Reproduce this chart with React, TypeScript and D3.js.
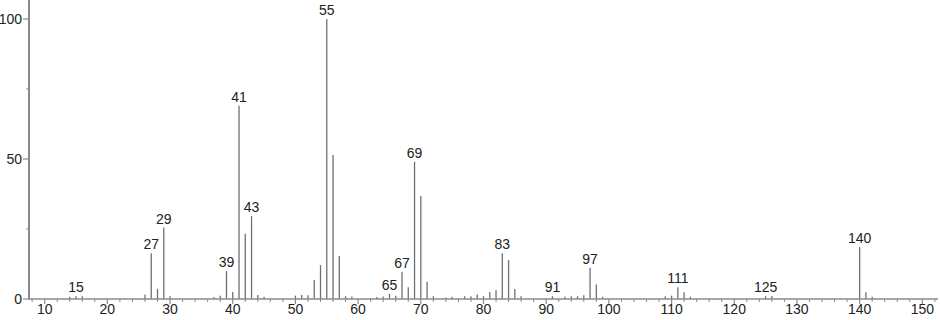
import React from "react";
import * as d3 from "d3";

const mz = [14, 15, 16, 26, 27, 28, 29, 30, 37, 38, 39, 40, 41, 42, 43, 44, 45, 50, 51, 52, 53, 54, 55, 56, 57, 58, 59, 62, 63, 64, 65, 66, 67, 68, 69, 70, 71, 72, 74, 75, 77, 78, 79, 80, 81, 82, 83, 84, 85, 86, 91, 93, 94, 95, 96, 97, 98, 99, 109, 110, 111, 112, 113, 125, 126, 140, 141, 142];
const intensity = [0.8, 1.0, 1.0, 1.5, 16.3, 3.6, 25.5, 1.0, 0.7, 1.2, 10.0, 2.5, 69.0, 23.3, 29.6, 1.4, 0.8, 1.2, 1.4, 1.3, 6.8, 12.1, 100, 51.4, 15.4, 1.0, 0.9, 0.3, 0.7, 0.9, 1.8, 1.2, 9.6, 4.2, 49.0, 36.8, 6.2, 1.0, 0.5, 0.8, 1.0, 1.0, 1.6, 1.0, 2.5, 3.1, 16.3, 13.9, 3.6, 1.0, 1.0, 0.8, 1.0, 1.0, 1.3, 11.2, 5.2, 0.8, 1.0, 1.2, 4.2, 2.4, 0.8, 1.0, 1.1, 18.5, 2.4, 0.8];
const labeled = [15, 27, 29, 39, 41, 43, 55, 65, 67, 69, 83, 91, 97, 111, 125, 140];
const xTicks = [10, 20, 30, 40, 50, 60, 70, 80, 90, 100, 110, 120, 130, 140, 150];
const yTicks = [0, 50, 100];
const yMinor = [25, 75];

export default function App() {
  const W = 940, H = 320;
  const x = d3.scaleLinear().domain([7.5, 152.5]).range([29, 938]);
  const y = d3.scaleLinear().domain([0, 100]).range([299, 19]);
  const minor = d3.range(8, 153, 2).filter((v) => v % 10 !== 0);
  const font = "'Liberation Sans', Arial, sans-serif";
  const axisColor = "#8a8a8a";
  const barColor = "#707070";
  const textColor = "#222";

  return (
    <svg width={W} height={H} style={{ position: "absolute", left: 0, top: 0, background: "#fff" }}>
      {/* bars */}
      {mz.map((m, i) => (
        <line key={m} x1={x(m)} x2={x(m)} y1={y(0)} y2={y(intensity[i])} stroke={barColor} strokeWidth={1.3} />
      ))}
      {/* peak labels */}
      {mz.map((m, i) =>
        labeled.includes(m) ? (
          <text key={"l" + m} x={x(m)} y={y(intensity[i]) - 4} textAnchor="middle" fontFamily={font} fontSize={14} fill={textColor}>
            {m}
          </text>
        ) : null
      )}
      {/* x axis */}
      <line x1={29} x2={938} y1={y(0)} y2={y(0)} stroke={axisColor} strokeWidth={1.3} />
      {minor.map((v) => (
        <line key={"mn" + v} x1={x(v)} x2={x(v)} y1={y(0)} y2={y(0) + 3} stroke={axisColor} strokeWidth={1} />
      ))}
      {xTicks.map((v) => (
        <g key={"xt" + v}>
          <line x1={x(v)} x2={x(v)} y1={y(0)} y2={y(0) + 5} stroke={axisColor} strokeWidth={1.2} />
          <text x={x(v)} y={314} textAnchor="middle" fontFamily={font} fontSize={14} fill={textColor}>
            {v}
          </text>
        </g>
      ))}
      {/* y axis */}
      <line x1={29} x2={29} y1={0} y2={y(0) + 0.6} stroke={axisColor} strokeWidth={2} />
      {yTicks.map((v) => (
        <g key={"yt" + v}>
          <line x1={23} x2={29} y1={y(v)} y2={y(v)} stroke={axisColor} strokeWidth={1.2} />
          <text x={22} y={y(v) + 5} textAnchor="end" fontFamily={font} fontSize={14} fill={textColor}>
            {v}
          </text>
        </g>
      ))}
      {yMinor.map((v) => (
        <line key={"ym" + v} x1={26} x2={29} y1={y(v)} y2={y(v)} stroke={axisColor} strokeWidth={1} />
      ))}
    </svg>
  );
}
